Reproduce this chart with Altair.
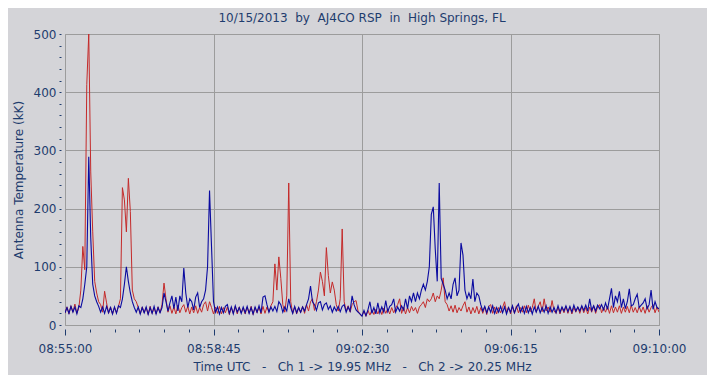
import altair as alt
import pandas as pd

STEP_SECONDS = 3
CH1_VALUES = [
    20, 31, 19, 33, 22, 36, 20, 30, 60, 135,
    95, 413, 500, 263, 160, 75, 55, 40, 35, 22,
    58, 38, 20, 31, 19, 30, 21, 32, 45, 236,
    215, 160, 252, 195, 60, 45, 40, 30, 19, 31,
    21, 30, 18, 32, 20, 29, 19, 31, 21, 35,
    72, 45, 22, 33, 20, 31, 19, 34, 21, 30,
    35, 22, 32, 19, 31, 21, 33, 20, 30, 22,
    35, 40, 24, 40, 30, 19, 31, 20, 32, 19,
    30, 21, 31, 18, 30, 20, 32, 19, 31, 21,
    29, 19, 31, 20, 32, 18, 30, 21, 31, 19,
    32, 20, 31, 22, 33, 40, 105, 60, 117, 80,
    35, 22, 50, 244, 40, 20, 31, 19, 30, 21,
    32, 20, 35, 24, 40, 45, 25, 40, 60, 91,
    75, 50, 133, 85, 55, 74, 60, 35, 24, 45,
    165, 40, 24, 33, 22, 35, 40, 42, 24, 18,
    16, 24, 15, 25, 17, 26, 18, 27, 19, 28,
    18, 29, 20, 28, 19, 30, 21, 29, 35, 45,
    20, 31, 19, 30, 21, 32, 24, 30, 20, 31,
    35, 40, 30, 45, 40, 45, 55, 40, 50, 45,
    60, 81, 40, 35, 24, 33, 22, 34, 21, 30,
    24, 33, 40, 22, 31, 19, 30, 21, 32, 19,
    30, 20, 31, 18, 32, 35, 20, 31, 19, 30,
    21, 30, 40, 22, 31, 19, 32, 20, 33, 21,
    30, 22, 33, 21, 34, 23, 30, 45, 22, 32,
    40, 23, 45, 24, 31, 22, 42, 24, 20, 31,
    19, 30, 21, 32, 20, 31, 19, 30, 22, 31,
    20, 32, 21, 30, 19, 31, 22, 33, 20, 31,
    35, 21, 30, 22, 32, 20, 33, 21, 31, 22,
    33, 20, 31, 22, 32, 21, 34, 22, 30, 21,
    32, 22, 31, 20, 33, 22, 30, 35, 21, 31,
    22,
]
CH2_VALUES = [
    21, 30, 20, 32, 22, 31, 19, 33, 30, 45,
    70, 100, 289, 150, 70, 50, 40, 32, 22, 31,
    20, 32, 21, 30, 19, 31, 20, 33, 30, 45,
    70, 100, 75, 55, 40, 30, 22, 31, 19, 30,
    21, 31, 18, 30, 20, 32, 19, 30, 21, 30,
    55, 40, 24, 38, 50, 28, 48, 24, 50, 40,
    98, 55, 30, 45, 40, 26, 48, 55, 30, 40,
    45, 60, 100, 231, 135, 40, 22, 31, 19, 30,
    21, 32, 35, 20, 31, 19, 33, 22, 30, 20,
    31, 21, 32, 20, 30, 19, 31, 22, 33, 21,
    48, 50, 35, 22, 31, 24, 32, 23, 40, 35,
    22, 31, 24, 45, 30, 20, 32, 21, 30, 22,
    31, 24, 35, 45, 67, 40, 35, 25, 38, 40,
    26, 35, 38, 27, 33, 22, 31, 24, 32, 23,
    32, 35, 22, 31, 24, 50, 35, 26, 22, 19,
    15, 25, 16, 26, 40, 20, 30, 19, 38, 21,
    31, 22, 42, 23, 32, 35, 45, 22, 31, 24,
    33, 26, 45, 28, 50, 40, 55, 40, 55, 45,
    60, 70, 60, 75, 100, 190, 203, 130, 75, 244,
    80, 70, 60, 45, 55, 45, 70, 81, 50, 60,
    141, 120, 60, 45, 55, 45, 79, 40, 55, 50,
    35, 24, 32, 21, 31, 22, 33, 20, 30, 22,
    32, 21, 31, 19, 30, 22, 33, 21, 30, 36,
    22, 31, 20, 32, 21, 30, 19, 31, 22, 32,
    21, 30, 22, 33, 20, 31, 22, 30, 21, 33,
    22, 31, 24, 33, 23, 32, 22, 34, 24, 31,
    24, 33, 25, 34, 24, 45, 25, 33, 24, 34,
    28, 35, 26, 38, 27, 45, 63, 30, 50, 40,
    58, 30, 45, 28, 40, 62, 33, 35, 45, 53,
    30, 34, 38, 45, 28, 35, 60, 27, 40, 30,
    28,
]
TICK_SECONDS = [0, 225, 450, 675, 900]
TICK_LABELS = ["08:55:00", "08:58:45", "09:02:30", "09:06:15", "09:10:00"]
MINOR_STEP = 37.5
Y_TICKS = list(range(0, 501, 20))

NB = "\u00a0"
TITLE = f"10/15/2013{NB}{NB}by{NB}{NB}AJ4CO RSP{NB}{NB}in{NB}{NB}High Springs, FL"
X_TITLE = (f"Time UTC{NB}{NB}{NB}-{NB}{NB}{NB}Ch 1 -> 19.95 MHz"
           f"{NB}{NB}{NB}-{NB}{NB}{NB}Ch 2 -> 20.25 MHz")
Y_TITLE = "Antenna Temperature (kK)"

df = pd.DataFrame({
    "t": [i * STEP_SECONDS for i in range(len(CH1_VALUES))],
    "ch1": CH1_VALUES,
    "ch2": CH2_VALUES,
})

TEXT = "#1E3C6E"
BG = "#D4D4D8"
GRID = "#9C9C9C"
FONT = "DejaVu Sans"

x_vals = [i * MINOR_STEP for i in range(int(900 / MINOR_STEP) + 1)]
label_expr = " : ".join(f"datum.value == {s} ? '{l}'" for s, l in zip(TICK_SECONDS, TICK_LABELS)) + " : ''"
major_test = "datum.value % 225 == 0"

x_enc = alt.X(
    "t:Q",
    scale=alt.Scale(domain=[0, 900], nice=False, zero=False),
    axis=alt.Axis(
        values=x_vals,
        tickCount=100,
        labelExpr=label_expr,
        title=X_TITLE,
        titleFont=FONT, titleFontSize=12, titleFontWeight="normal", titleColor=TEXT,
        titlePadding=7,
        labelFont=FONT, labelFontSize=12, labelColor=TEXT, labelPadding=8,
        labelOverlap=False, labelFlush=False,
        domain=False, offset=4,
        tickColor=TEXT,
        tickSize={"condition": {"test": major_test, "value": 6}, "value": 3},
        grid=True, gridColor=GRID,
        gridOpacity={"condition": {"test": major_test, "value": 1}, "value": 0},
    ),
)
y_enc = alt.Y(
    "ch1:Q",
    scale=alt.Scale(domain=[0, 500], nice=False),
    axis=alt.Axis(
        values=Y_TICKS,
        tickCount=100,
        labelExpr="datum.value % 100 == 0 ? datum.label : ''",
        labelOverlap=False,
        title=Y_TITLE,
        titleFont=FONT, titleFontSize=12, titleFontWeight="normal", titleColor=TEXT,
        titlePadding=8,
        labelFont=FONT, labelFontSize=12, labelColor=TEXT, labelPadding=3,
        domain=False, offset=4, tickSize=2, tickColor=TEXT,
        grid=True, gridColor=GRID,
        gridOpacity={"condition": {"test": "datum.value % 100 == 0", "value": 1}, "value": 0},
    ),
)

base = alt.Chart(df)
red = base.mark_line(color="#C42A2A", strokeWidth=1, clip=True).encode(x=x_enc, y=y_enc)
blue = base.mark_line(color="#0A0AA0", strokeWidth=1.1, clip=True).encode(
    x=alt.X("t:Q"), y=alt.Y("ch2:Q")
)

chart = alt.layer(red, blue).properties(
    width=594,
    height=291,
    autosize=alt.AutoSizeParams(type="none"),
    padding={"left": 57, "top": 26, "right": 48, "bottom": 50},
    background=BG,
    title=alt.TitleParams(
        TITLE, font=FONT, fontSize=12, fontWeight="normal", color=TEXT,
        anchor="middle", offset=3,
    ),
).configure_view(stroke="#9C9C9C", fill=BG)

chart.save("out.html", embed_options={"renderer": "svg", "actions": False})
